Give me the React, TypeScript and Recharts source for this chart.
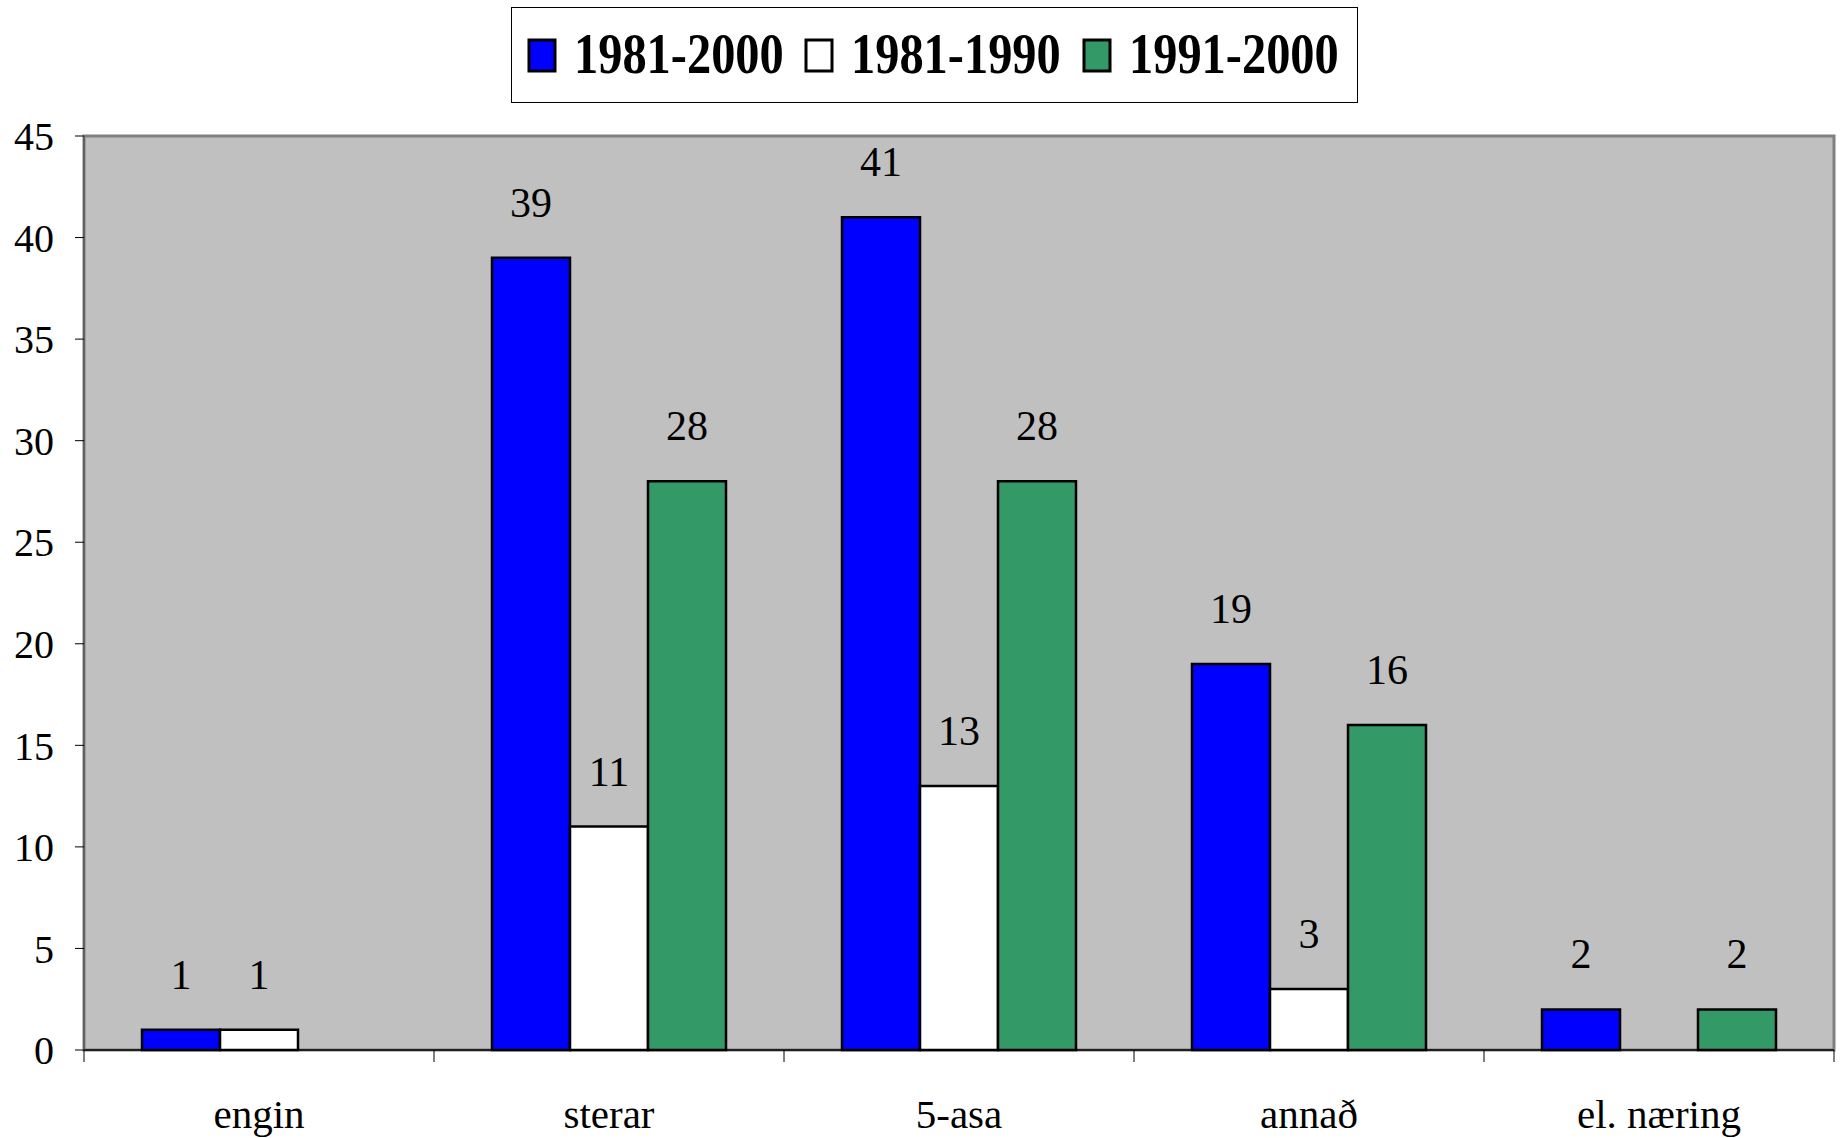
import React from "react";
import {
  BarChart,
  Bar,
  XAxis,
  YAxis,
  CartesianGrid,
  LabelList,
  Legend,
  ReferenceArea,
} from "recharts";

const categories = ["engin", "sterar", "5-asa", "annað", "el. næring"];
const s1981_2000: (number | null)[] = [1, 39, 41, 19, 2];
const s1981_1990: (number | null)[] = [1, 11, 13, 3, null];
const s1991_2000: (number | null)[] = [null, 28, 28, 16, 2];
const yTicks = [0, 5, 10, 15, 20, 25, 30, 35, 40, 45];

const seriesNames = ["1981-2000", "1981-1990", "1991-2000"];
const seriesColors = ["#0000FF", "#FFFFFF", "#339966"];

const data = categories.map((c, i) => ({
  name: c,
  a: s1981_2000[i],
  b: s1981_1990[i],
  c: s1991_2000[i],
}));

const FONT = "'Liberation Serif', 'Times New Roman', serif";

const CustomLegend = () => {
  const xs = [18, 295, 573];
  return (
    <svg width={847} height={96} style={{ display: "block" }}>
      <rect x={0.5} y={0.5} width={846} height={95} fill="#fff" stroke="#000" strokeWidth={1} />
      {seriesNames.map((n, i) => (
        <g key={n}>
          <rect
            x={xs[i]}
            y={33}
            width={26}
            height={31}
            fill={seriesColors[i]}
            stroke="#000"
            strokeWidth={3}
          />
          <text
            x={0}
            y={0}
            transform={`translate(${xs[i] + 45},66) scale(0.835,1)`}
            style={{ fontFamily: FONT, fontWeight: "bold", fontSize: 58 }}
            fill="#000"
          >
            {n}
          </text>
        </g>
      ))}
    </svg>
  );
};

const XTick = (props: any) => {
  const { x, y, payload, index, visibleTicksCount } = props;
  const band = 350;
  return (
    <g>
      <line x1={x - band / 2} y1={y - 8} x2={x - band / 2} y2={y + 4} stroke="#000" strokeWidth={1} />
      {index === (visibleTicksCount ?? 5) - 1 && (
        <line x1={x + band / 2} y1={y - 8} x2={x + band / 2} y2={y + 4} stroke="#000" strokeWidth={1} />
      )}
      <text
        x={x}
        y={y + 70}
        textAnchor="middle"
        style={{ fontFamily: FONT, fontSize: 41 }}
        fill="#000"
      >
        {payload.value}
      </text>
    </g>
  );
};

export default function App() {
  return (
    <div style={{ position: "absolute", left: 0, top: 0, background: "#fff", fontFamily: FONT }}>
      <BarChart
        width={1843}
        height={1138}
        data={data}
        margin={{ top: 40, right: 9, bottom: 0, left: 0 }}
        barGap={0}
        barSize={78}
        style={{ fontFamily: FONT }}
      >
        <ReferenceArea y1={0} y2={45} fill="#C0C0C0" fillOpacity={1} stroke="none" ifOverflow="extendDomain" />
        <CartesianGrid vertical={false} horizontal={true} stroke="#000" strokeWidth={1} fill="none" />
        <ReferenceArea y1={0} y2={45} fill="none" stroke="#808080" strokeWidth={3} />
        <XAxis
          dataKey="name"
          height={88}
          tickLine={false}
          axisLine={{ stroke: "#000", strokeWidth: 1.5 }}
          tick={<XTick />}
          interval={0}
        />
        <YAxis
          width={84}
          domain={[0, 45]}
          ticks={yTicks}
          interval={0}
          tickSize={9}
          tickMargin={21}
          axisLine={{ stroke: "#404040", strokeWidth: 1 }}
          tickLine={{ stroke: "#000", strokeWidth: 1 }}
          tick={{ fontSize: 40, fill: "#000", style: { fontFamily: FONT } }}
        />
        <Legend
          verticalAlign="top"
          content={<CustomLegend />}
          wrapperStyle={{ position: "absolute", top: 7, left: 511, width: 847, height: 96 }}
        />
        {["a", "b", "c"].map((k, i) => (
          <Bar
            key={k}
            dataKey={k}
            name={seriesNames[i]}
            fill={seriesColors[i]}
            stroke="#000"
            strokeWidth={2.5}
            isAnimationActive={false}
          >
            <LabelList
              dataKey={k}
              position="top"
              offset={41}
              style={{ fontFamily: FONT, fontSize: 42, fill: "#000" }}
            />
          </Bar>
        ))}
      </BarChart>
    </div>
  );
}
